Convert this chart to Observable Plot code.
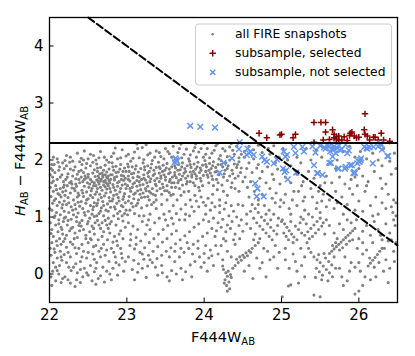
<!DOCTYPE html>
<html><head><meta charset="utf-8">
<script src="https://cdn.jsdelivr.net/npm/d3@7"></script>
<script src="https://cdn.jsdelivr.net/npm/@observablehq/plot@0.6"></script>
<style>body{margin:0;background:#fff}#c{position:relative;width:415px;height:356px}</style>
</head><body><div id="c"></div>
<script>
const xTicks = [22,23,24,25,26];
const yTicks = [0,1,2,3,4];
const xDomain = [22,26.5];
const yDomain = [-0.5,4.5];
const colorCut = [2.3];
const diagLine = [[22.5,4.5],[26.5,0.5]];

const selected = [[24.71,2.47],[24.81,2.39],[24.98,2.44],[25.0,2.45],[25.15,2.39],[25.18,2.45],[25.42,2.66],[25.51,2.66],[25.57,2.66],[26.08,2.81],[25.57,2.49],[25.66,2.53],[25.68,2.45],[25.71,2.41],[25.71,2.37],[25.81,2.41],[25.89,2.47],[25.91,2.49],[25.94,2.42],[25.97,2.39],[26.07,2.53],[26.08,2.45],[26.11,2.42],[26.19,2.4],[26.21,2.4],[26.29,2.47],[26.32,2.35],[26.4,2.33],[25.42,2.31],[25.54,2.35],[25.62,2.36],[25.74,2.34],[25.78,2.35],[25.85,2.34],[26.0,2.4],[26.14,2.35],[26.25,2.35],[25.68,2.39],[25.74,2.42],[25.88,2.43]];

const notSelected = [[23.82,2.6],[23.95,2.58],[24.14,2.57],[23.63,2.03],[23.65,1.98],[23.62,1.96],[23.64,2.0],[24.2,1.78],[24.25,1.95],[24.36,2.03],[24.45,2.19],[24.46,2.31],[24.56,2.2],[24.58,2.12],[24.6,2.15],[24.64,2.09],[24.55,2.09],[24.66,1.59],[24.69,1.5],[24.68,1.36],[24.77,1.36],[24.75,2.06],[24.78,2.0],[24.81,1.97],[24.9,1.94],[24.94,2.01],[25.03,2.15],[25.05,2.06],[25.07,2.09],[25.02,1.85],[25.04,1.79],[25.08,1.66],[25.16,2.23],[25.18,2.12],[25.19,1.78],[25.27,2.23],[25.29,2.15],[25.42,1.91],[25.44,2.13],[25.46,1.77],[25.53,1.74],[25.5,2.25],[25.55,2.22],[25.57,2.2],[25.61,2.23],[25.63,2.15],[25.68,2.19],[25.7,2.12],[25.66,2.06],[25.62,1.95],[25.74,2.25],[25.78,2.19],[25.83,2.27],[25.74,1.85],[25.85,2.12],[25.87,2.17],[25.83,1.88],[25.89,1.91],[25.94,1.79],[25.95,1.77],[25.98,1.94],[26.02,2.0],[26.0,1.97],[26.07,2.23],[26.11,2.2],[26.18,1.94],[26.19,2.23],[26.28,2.29],[26.3,2.18],[26.38,2.07],[25.4,2.24],[25.6,2.26],[25.65,2.28],[25.72,2.21],[25.76,2.17],[25.68,2.24],[25.06,1.82],[25.47,1.77],[25.64,1.95],[25.73,1.85],[25.82,1.85],[25.91,1.91],[25.93,1.77],[26.01,1.97],[26.03,2.03],[26.1,2.21],[26.14,2.22],[26.37,2.07],[26.25,2.24],[26.29,2.26]];

const snapshots = [
[22.03,1.92],[22.1,2.02],[22.17,1.95],[22.22,2.08],[22.3,1.98],[22.36,2.12],[22.41,2.03],[22.48,1.94],[22.53,2.1],[22.6,2.0],[22.66,2.15],[22.71,2.05],[22.77,1.96],[22.83,2.12],[22.88,2.02],[22.94,2.18],[22.99,2.07],[23.05,1.98],[23.1,2.14],[23.16,2.04],[23.2,2.22],[23.27,2.09],[23.33,1.99],[23.38,2.16],[23.44,2.06],[23.5,2.2],[23.55,2.11],[23.6,2.24],[23.66,2.13],[23.71,2.04],[23.77,2.19],[23.82,2.09],[23.88,2.22],[23.93,2.14],[23.99,2.05],[24.04,2.2],[24.1,2.12],[24.15,2.25],[24.21,2.08],[24.27,2.16],[24.33,2.23],[24.39,2.1],[24.45,2.04],[24.52,2.15],[24.58,2.24],[24.64,2.18],[24.7,2.26],[24.75,2.13],[24.83,2.2],[24.9,2.25],[22.13,1.88],[22.45,2.16],[22.85,2.21],[23.25,2.27],[23.7,2.28],[24.0,2.29],[24.35,2.29],[23.13,2.28],[23.89,2.28],[24.17,2.28],
[22.02,1.85],[22.07,1.78],[22.12,1.82],[22.16,1.74],[22.04,1.7],[22.1,1.66],[22.18,1.62],[22.03,1.6],[22.08,1.55],[22.14,1.5],[22.19,1.56],[22.05,1.45],[22.11,1.41],[22.17,1.44],[22.02,1.36],[22.08,1.32],[22.15,1.35],[22.19,1.28],[22.04,1.24],[22.1,1.2],[22.16,1.16],[22.03,1.12],[22.09,1.08],[22.14,1.04],[22.19,1.1],[22.06,0.99],[22.12,0.95],[22.18,0.92],[22.01,0.9],[22.08,0.86],[22.15,0.82],[22.03,0.78],[22.11,0.74],[22.17,0.7],[22.05,0.66],[22.13,0.62],[22.19,0.98],[22.06,1.92],[22.14,1.7],[22.01,1.52],[22.13,1.26],
[22.22,1.9],[22.27,1.84],[22.33,1.88],[22.38,1.8],[22.24,1.76],[22.3,1.72],[22.36,1.75],[22.21,1.66],[22.28,1.62],[22.34,1.67],[22.39,1.6],[22.23,1.55],[22.29,1.51],[22.35,1.54],[22.21,1.46],[22.27,1.42],[22.33,1.46],[22.38,1.38],[22.24,1.34],[22.31,1.3],[22.37,1.26],[22.22,1.22],[22.28,1.18],[22.34,1.14],[22.39,1.19],[22.25,1.08],[22.31,1.04],[22.37,1.07],[22.21,1.0],[22.28,0.96],[22.35,0.92],[22.23,0.86],[22.3,0.82],[22.38,0.85],[22.26,0.76],[22.33,0.72],[22.22,0.68],[22.36,0.64],[22.29,1.58],[22.36,1.35],
[22.42,1.92],[22.47,1.86],[22.53,1.9],[22.58,1.83],[22.44,1.78],[22.5,1.75],[22.56,1.77],[22.41,1.7],[22.47,1.68],[22.53,1.66],[22.59,1.71],[22.43,1.62],[22.49,1.6],[22.55,1.62],[22.45,1.54],[22.51,1.52],[22.57,1.55],[22.42,1.47],[22.48,1.44],[22.54,1.46],[22.59,1.4],[22.44,1.36],[22.5,1.32],[22.56,1.34],[22.41,1.27],[22.47,1.24],[22.53,1.2],[22.58,1.25],[22.43,1.15],[22.5,1.1],[22.56,1.13],[22.46,1.03],[22.52,0.98],[22.58,1.01],[22.42,0.94],[22.49,0.88],[22.55,0.84],[22.44,0.78],[22.52,0.74],[22.58,0.7],[22.46,1.72],[22.52,1.58],
[22.61,1.93],[22.66,1.87],[22.72,1.91],[22.77,1.84],[22.62,1.8],[22.68,1.77],[22.74,1.79],[22.79,1.74],[22.63,1.72],[22.69,1.7],[22.75,1.68],[22.61,1.65],[22.66,1.63],[22.72,1.64],[22.78,1.6],[22.64,1.58],[22.7,1.56],[22.76,1.55],[22.62,1.5],[22.68,1.47],[22.74,1.49],[22.79,1.44],[22.65,1.4],[22.71,1.37],[22.77,1.34],[22.63,1.3],[22.69,1.27],[22.75,1.23],[22.61,1.2],[22.67,1.16],[22.73,1.12],[22.79,1.17],[22.64,1.06],[22.7,1.02],[22.76,0.98],[22.62,0.94],[22.68,0.9],[22.74,0.86],[22.66,0.8],[22.72,1.74],[22.67,1.66],[22.73,1.6],
[22.81,1.95],[22.86,1.89],[22.92,1.92],[22.97,1.86],[22.83,1.82],[22.89,1.79],[22.95,1.8],[22.81,1.74],[22.87,1.71],[22.93,1.73],[22.98,1.68],[22.84,1.65],[22.9,1.62],[22.96,1.64],[22.82,1.57],[22.88,1.54],[22.94,1.56],[22.99,1.5],[22.85,1.47],[22.91,1.44],[22.97,1.41],[22.83,1.38],[22.89,1.34],[22.95,1.31],[22.81,1.28],[22.87,1.24],[22.93,1.2],[22.98,1.25],[22.85,1.14],[22.91,1.1],[22.97,1.06],[22.83,1.02],[22.89,0.97],[22.95,0.93],[22.86,0.86],
[23.01,1.93],[23.07,1.88],[23.12,1.9],[23.18,1.85],[23.03,1.8],[23.09,1.77],[23.15,1.79],[23.02,1.72],[23.08,1.69],[23.14,1.71],[23.19,1.66],[23.04,1.63],[23.1,1.6],[23.16,1.62],[23.01,1.55],[23.07,1.52],[23.13,1.54],[23.18,1.48],[23.05,1.45],[23.11,1.42],[23.17,1.4],[23.03,1.36],[23.09,1.32],[23.15,1.3],[23.06,1.24],[23.12,1.2],[23.19,1.16],[23.04,1.12],[23.1,1.06],[23.16,1.02],
[23.21,1.95],[23.27,1.9],[23.32,1.93],[23.38,1.87],[23.23,1.83],[23.29,1.8],[23.35,1.82],[23.22,1.74],[23.28,1.71],[23.34,1.73],[23.39,1.68],[23.24,1.65],[23.3,1.62],[23.36,1.64],[23.21,1.57],[23.27,1.54],[23.33,1.5],[23.38,1.55],[23.25,1.46],[23.31,1.42],[23.37,1.38],[23.23,1.35],[23.29,1.3],[23.35,1.26],
[23.41,1.96],[23.47,1.91],[23.52,1.94],[23.58,1.88],[23.43,1.85],[23.49,1.82],[23.55,1.84],[23.42,1.77],[23.48,1.74],[23.54,1.76],[23.59,1.7],[23.44,1.68],[23.5,1.65],[23.56,1.66],[23.46,1.58],[23.52,1.55],[23.58,1.6],[23.43,1.5],[23.49,1.46],[23.55,1.43],
[23.61,1.97],[23.67,1.92],[23.72,1.95],[23.78,1.9],[23.63,1.86],[23.69,1.83],[23.75,1.85],[23.62,1.78],[23.68,1.75],[23.74,1.77],[23.79,1.72],[23.64,1.69],[23.7,1.66],[23.76,1.68],[23.66,1.6],[23.72,1.56],[23.78,1.62],[23.63,1.52],
[23.81,1.98],[23.87,1.93],[23.92,1.96],[23.98,1.91],[23.83,1.87],[23.89,1.84],[23.95,1.86],[23.82,1.79],[23.88,1.76],[23.94,1.78],[23.99,1.73],[23.84,1.7],[23.9,1.67],[23.96,1.63],[23.86,1.6],
[24.01,1.99],[24.07,1.94],[24.12,1.97],[24.18,1.92],[24.03,1.88],[24.09,1.85],[24.15,1.87],[24.02,1.8],[24.08,1.77],[24.14,1.79],[24.19,1.74],[24.05,1.7],[24.11,1.66],
[24.22,1.99],[24.28,1.95],[24.33,2.0],[24.39,1.93],[24.45,1.97],[24.24,1.88],[24.3,1.85],[24.36,1.82],[24.42,1.87],[24.26,1.76],[24.33,1.72],[24.4,1.68],[24.47,1.78],
[22.01,1.74],[22.05,1.63],[22.09,1.48],[22.13,1.39],[22.17,1.22],[22.0,1.15],[22.07,1.02],[22.12,0.88],[22.16,0.78],[22.02,0.71],[22.09,0.58],[22.15,0.52],[22.2,0.62],[22.06,1.29],[22.18,1.52],[22.04,1.82],[22.11,1.96],[22.19,1.85],[22.23,1.7],[22.26,1.6],[22.32,1.5],[22.37,1.42],[22.25,1.25],[22.3,1.12],[22.35,1.0],[22.39,0.9],[22.24,0.94],[22.28,0.8],[22.32,0.62],[22.27,0.56],[22.39,0.76],[22.33,1.22],[22.2,1.38],[22.26,1.96],[22.31,1.82],[22.38,1.66],[22.34,1.58],
[22.41,1.82],[22.45,1.66],[22.5,1.7],[22.55,1.5],[22.58,1.6],[22.43,1.42],[22.48,1.3],[22.53,1.38],[22.57,1.18],[22.45,1.08],[22.5,0.92],[22.55,1.05],[22.59,0.9],[22.41,0.84],[22.47,0.68],[22.53,0.62],[22.57,0.8],[22.44,2.0],[22.56,1.96],[22.62,1.86],[22.65,1.76],[22.7,1.82],[22.76,1.72],[22.79,1.66],[22.64,1.68],[22.7,1.62],[22.75,1.58],[22.6,1.55],[22.66,1.52],[22.72,1.53],[22.78,1.5],[22.61,1.44],[22.67,1.34],[22.73,1.42],[22.78,1.28],[22.62,1.24],[22.7,1.2],[22.76,1.1],[22.66,1.1],[22.61,1.02],[22.72,0.94],[22.78,0.88],[22.64,0.86],[22.7,0.74],[22.76,0.8],[22.8,0.92],[22.68,0.66],[22.74,1.7],[22.69,1.73],[22.77,1.64],[22.63,1.62],
[22.82,1.88],[22.86,1.78],[22.91,1.84],[22.96,1.72],[22.99,1.8],[22.84,1.69],[22.88,1.6],[22.93,1.66],[22.98,1.58],[22.83,1.52],[22.87,1.4],[22.92,1.5],[22.96,1.36],[22.82,1.32],[22.9,1.28],[22.95,1.18],[22.84,1.18],[22.88,1.06],[22.94,1.02],[22.99,1.12],[23.02,1.88],[23.06,1.76],[23.11,1.84],[23.16,1.7],[23.02,1.66],[23.08,1.58],[23.13,1.64],[23.17,1.56],[23.04,1.5],[23.09,1.4],[23.14,1.46],[23.19,1.34],[23.02,1.28],[23.08,1.18],[23.14,1.24],[23.01,1.04],[23.23,1.88],[23.27,1.77],[23.31,1.86],[23.36,1.76],[23.22,1.68],[23.26,1.6],[23.31,1.67],[23.37,1.58],[23.24,1.5],[23.29,1.45],[23.34,1.4],[23.39,1.46],[23.21,1.42],[23.27,1.36],[23.32,1.22],[23.38,1.3],[23.26,1.2],
[23.42,1.88],[23.46,1.8],[23.51,1.86],[23.56,1.78],[23.44,1.72],[23.5,1.7],[23.55,1.62],[23.58,1.52],[23.42,1.62],[23.47,1.52],[23.52,1.46],[23.57,1.38],[23.45,1.4],[23.62,1.9],[23.66,1.82],[23.71,1.88],[23.76,1.8],[23.62,1.73],[23.67,1.64],[23.72,1.72],[23.77,1.58],[23.61,1.6],[23.68,1.5],[23.74,1.44],[23.82,1.92],[23.86,1.8],[23.91,1.88],[23.96,1.82],[23.84,1.74],[23.9,1.72],[23.95,1.68],[23.82,1.62],[23.88,1.55],[23.93,1.52],[24.02,1.92],[24.06,1.82],[24.11,1.9],[24.16,1.8],[24.04,1.74],[24.1,1.72],[24.16,1.66],[24.06,1.6],[24.12,1.55],[24.18,1.6],[24.22,1.92],[24.27,1.82],[24.31,1.9],[24.37,1.76],[24.43,1.92],[24.25,1.7],[24.3,1.64],[24.36,1.6],[24.44,1.72],[24.48,1.86],[24.23,1.56],[24.4,1.5],[24.5,1.62],
[22.05,2.05],[22.2,1.99],[22.27,2.05],[22.39,1.97],[22.5,2.02],[22.57,2.08],[22.64,2.04],[22.74,2.0],[22.8,2.06],[22.92,2.04],[23.02,2.1],[23.08,2.03],[23.14,2.2],[23.22,2.01],[23.3,2.12],[23.36,2.05],[23.42,2.13],[23.48,2.02],[23.53,2.15],[23.58,2.05],[23.68,2.2],[23.74,2.1],[23.8,2.02],[23.86,2.16],[23.9,2.05],[23.96,2.2],[24.02,2.1],[24.07,2.04],[24.13,2.17],[24.19,2.02],[24.24,2.2],[24.3,2.06],[24.37,2.17],[24.42,2.24],[24.48,2.1],
[22.03,0.55],[22.1,0.5],[22.18,0.57],[22.06,0.44],[22.14,0.4],[22.22,0.47],[22.3,0.52],[22.38,0.45],[22.02,0.33],[22.1,0.28],[22.19,0.34],[22.27,0.3],[22.35,0.36],[22.44,0.4],[22.5,0.55],[22.57,0.48],[22.63,0.6],[22.7,0.52],[22.05,0.2],[22.13,0.15],[22.22,0.2],[22.31,0.12],[22.4,0.22],[22.48,0.28],[22.56,0.35],[22.64,0.4],[22.72,0.33],[22.8,0.45],[22.88,0.5],[22.95,0.62],[22.04,0.05],[22.12,0.0],[22.2,-0.05],[22.28,0.06],[22.36,0.02],[22.45,0.1],[22.53,0.15],[22.61,0.2],[22.69,0.12],[22.77,0.22],[22.85,0.3],[22.93,0.36],[22.08,-0.12],[22.17,-0.08],[22.27,-0.16],[22.35,-0.1],[22.43,-0.05],[22.5,-0.02],[22.58,0.04],[22.66,-0.03],[22.74,0.05],[22.82,0.1],[22.9,0.16],[22.98,0.22],[22.55,-0.12],[22.63,-0.08],[22.71,-0.14],[22.03,-0.2],[22.33,-0.22],[22.88,-0.02],[22.96,0.05],[22.78,0.72],[22.84,0.66],[22.92,0.76],[22.98,0.82],[22.87,0.58],
[22.01,0.45],[22.07,0.38],[22.15,0.3],[22.24,0.38],[22.33,0.46],[22.42,0.52],[22.47,0.62],[22.54,0.6],[22.6,0.5],[22.67,0.45],[22.75,0.6],[22.82,0.56],[22.9,0.7],[22.08,0.12],[22.16,0.24],[22.25,0.12],[22.34,0.18],[22.42,0.3],[22.5,0.38],[22.58,0.26],[22.66,0.3],[22.74,0.42],[22.83,0.38],[22.92,0.45],[22.02,-0.05],[22.1,0.06],[22.24,-0.1],[22.4,0.08],[22.48,0.02],[22.6,0.1],[22.78,0.0],[22.86,0.2],[22.94,0.28],[22.15,-0.15],[22.4,-0.15],[22.6,-0.18],[22.8,-0.1],
[23.02,0.9],[23.08,0.84],[23.14,0.78],[23.2,0.92],[23.26,0.86],[23.05,0.7],[23.12,0.64],[23.18,0.58],[23.24,0.7],[23.3,0.78],[23.36,0.9],[23.42,0.98],[23.48,1.05],[23.04,0.5],[23.1,0.44],[23.17,0.38],[23.23,0.46],[23.29,0.55],[23.35,0.62],[23.41,0.7],[23.47,0.78],[23.53,0.85],[23.02,0.3],[23.09,0.24],[23.15,0.18],[23.22,0.26],[23.28,0.33],[23.34,0.4],[23.4,0.48],[23.46,0.56],[23.52,0.62],[23.58,0.7],[23.64,0.76],[23.07,0.08],[23.14,0.03],[23.2,0.1],[23.27,0.14],[23.33,0.2],[23.39,0.27],[23.45,0.33],[23.51,0.4],[23.57,0.46],[23.63,0.53],[23.69,0.6],[23.75,0.67],[23.81,0.74],[23.87,0.82],[23.93,0.88],[23.99,0.95],[23.4,-0.02],[23.46,0.02],[23.52,-0.05],[23.58,0.06],[23.64,0.0],[23.7,0.1],[23.76,0.04],[23.82,0.16],[23.88,0.22],[23.94,0.3],[24.0,0.36],[23.62,0.22],[23.68,0.3],[23.74,0.38],[23.8,0.45],[23.86,0.52],[23.92,0.58],[23.98,0.66],[23.1,-0.1],[23.25,-0.06],[23.55,-0.12],[23.72,-0.1],[23.84,-0.05],
[23.55,1.1],[23.6,1.2],[23.65,1.3],[23.7,1.38],[23.58,0.98],[23.64,1.06],[23.7,1.14],[23.76,1.22],[23.82,1.3],[23.88,1.38],[23.94,1.46],[23.75,0.95],[23.81,1.02],[23.87,1.1],[23.93,1.18],[23.99,1.26],[24.05,1.33],[24.11,1.4],[24.17,1.48],[24.02,1.05],[24.08,1.12],[24.14,1.18],[24.2,1.08],[24.26,1.14],[24.32,1.02],[24.06,0.92],[24.12,0.98],[24.18,0.9],[24.24,0.96],[24.3,0.86],[24.36,0.92],[24.1,0.8],[24.16,0.76],[24.22,0.82],[24.28,0.74],[24.34,0.8],[24.4,0.7],[24.04,0.72],[24.14,0.66],[24.25,0.62],[24.38,1.1],[24.44,1.22],[24.48,0.95],[24.2,1.3],[24.3,1.38],[24.45,1.45],[24.02,0.5],[24.08,0.42],[24.15,0.5],[23.98,1.55],
[24.25,0.08],[24.28,0.02],[24.3,-0.04],[24.27,-0.1],[24.32,-0.14],[24.29,-0.2],[24.33,-0.26],[24.35,-0.06],[24.31,0.05],[24.26,-0.16],[24.34,-0.01],[24.3,-0.3],[24.37,0.1],[24.24,0.14],[24.4,0.15],
[24.42,0.26],[24.46,0.3],[24.5,0.33],[24.54,0.37],[24.58,0.41],[24.62,0.45],[24.66,0.5],[24.48,0.24],[24.52,0.29],[24.56,0.32],[24.6,0.38],[24.44,0.2],[24.7,0.55],[24.64,0.6],
[24.52,2.05],[24.58,1.95],[24.64,2.02],[24.7,1.92],[24.55,1.85],[24.62,1.78],[24.68,1.86],[24.75,1.8],[24.82,1.88],[24.88,1.75],[24.95,1.84],[24.53,1.7],[24.6,1.62],[24.72,1.68],[24.8,1.6],[24.9,1.66],[24.98,1.58],[24.56,1.52],[24.65,1.45],[24.75,1.4],[24.85,1.5],[24.93,1.42],[24.58,1.35],[24.7,1.3],[24.88,1.33],[24.97,2.05],[24.85,2.1],[24.92,1.95],
[24.62,1.22],[24.66,1.15],[24.7,1.08],[24.74,1.0],[24.78,0.94],[24.82,0.88],[24.86,0.82],[24.9,0.76],[24.94,0.7],[24.64,0.98],[24.68,0.9],[24.72,0.84],[24.76,0.78],[24.8,0.72],[24.84,0.66],[24.88,0.6],[24.78,1.2],[24.84,1.12],[24.9,1.05],[24.96,0.98],[25.0,0.92],[24.92,1.25],[24.98,1.18],[24.66,0.7],[24.72,0.62],[24.6,0.8],
[25.01,0.95],[25.04,0.88],[25.07,0.82],[25.1,0.76],[25.13,0.7],[25.16,0.65],[25.03,0.72],[25.06,0.66],[25.09,0.6],[25.12,0.92],[25.18,0.84],[25.22,0.78],[25.26,0.72],[25.3,0.68],[25.34,0.74],[25.38,0.8],[25.42,0.86],[25.46,0.92],[25.5,0.98],[25.54,0.9],[25.24,0.9],[25.28,0.96],[25.32,0.88],[25.36,0.62],[25.4,0.66],[25.44,0.72],[25.48,0.78],[25.52,0.84],[25.56,0.7],[25.2,0.6],[25.15,0.55],[25.25,1.0],[25.58,0.95],
[25.02,2.2],[25.08,2.0],[25.12,1.9],[25.2,2.05],[25.25,1.95],[25.32,2.2],[25.38,2.0],[25.45,2.18],[25.52,2.05],[25.6,1.92],[25.66,2.22],[25.72,2.0],[25.8,2.15],[25.88,2.24],[25.95,2.05],[26.02,2.15],[26.1,2.02],[26.18,2.12],[26.25,2.0],[26.32,2.2],[26.4,1.98],[26.46,2.12],[25.05,1.7],[25.12,1.6],[25.2,1.75],[25.28,1.62],[25.35,1.8],[25.42,1.68],[25.5,1.55],[25.58,1.72],[25.65,1.6],[25.75,1.7],[25.82,1.58],[25.9,1.66],[25.98,1.55],[26.05,1.72],[26.12,1.62],[26.2,1.8],[26.28,1.68],[26.35,1.58],[26.42,1.75],[26.48,1.85],[25.05,1.4],[25.14,1.3],[25.22,1.45],[25.3,1.35],[25.38,1.5],[25.46,1.25],[25.54,1.4],[25.62,1.3],[25.7,1.45],[25.78,1.35],[25.85,1.22],[25.92,1.4],[26.0,1.28],[26.08,1.45],[26.15,1.2],[26.22,1.35],[26.3,1.25],[26.38,1.4],[26.45,1.3],[25.1,1.15],[25.3,1.12],[25.5,1.08],[25.68,1.15],[25.8,1.05],[26.05,1.1],[26.25,1.05],[26.42,1.18],
[25.62,0.36],[25.65,0.4],[25.68,0.44],[25.71,0.48],[25.74,0.52],[25.77,0.56],[25.8,0.6],[25.83,0.64],[25.86,0.68],[25.89,0.72],[25.92,0.76],[25.95,0.8],[25.66,0.5],[25.7,0.55],[25.75,0.42],[25.79,0.46],[25.84,0.52],[25.88,0.58],[25.72,0.62],[25.9,0.9],[25.97,0.95],[26.0,0.62],[26.05,0.75],[26.1,0.85],[26.15,0.68],[26.2,0.92],[26.25,0.78],[26.3,0.6],[26.35,0.88],[26.4,0.72],[26.45,0.95],[26.48,1.02],[26.44,1.08],[26.47,0.85],
[25.42,0.3],[25.46,0.25],[25.5,0.2],[25.54,0.14],[25.58,0.08],[25.62,0.02],[25.45,0.1],[25.49,0.04],[25.53,-0.02],[25.57,0.28],[25.61,0.22],[25.65,0.16],[25.48,0.34],[25.55,0.36],[25.66,-0.05],[25.44,-0.06],[25.52,-0.1],[25.6,-0.12],[25.68,0.3],[25.7,0.1],
[26.12,0.14],[26.15,0.19],[26.18,0.24],[26.21,0.29],[26.24,0.34],[26.27,0.4],[26.14,0.28],[26.2,0.12],[26.26,0.2],[26.3,0.45],[26.05,0.35],[26.02,0.05],[26.08,-0.05],[26.35,0.25],[26.4,0.1],[26.45,0.4],[26.48,0.55],[26.38,0.58],[26.0,0.2],
[25.01,-0.4],[25.09,-0.21],[25.12,-0.19],[25.22,-0.16],[25.42,-0.37],[25.5,-0.4],[25.95,-0.35],[26.0,-0.3],[25.8,-0.2],[25.85,-0.12],[26.05,-0.2],[25.3,-0.05],[25.2,0.05],[24.8,-0.05],[24.95,0.1],[24.9,0.3],[25.05,0.25],[25.15,0.35],[25.3,0.3],[25.35,0.45],[24.75,0.2],[24.82,0.4],[25.25,0.45],
[24.0,0.2],[24.06,0.28],[24.12,0.15],[24.18,0.35],[24.24,0.25],[24.3,0.4],[24.35,0.3],[24.22,0.5],[24.28,0.58],[24.4,0.52],[24.46,0.62],[24.5,0.75],[24.55,0.88],[24.55,1.05],[24.5,1.2],
[24.52,0.05],[24.58,0.15],[24.63,-0.08],[24.68,0.28],[24.72,0.1],[24.77,0.45],[24.85,0.25],[24.92,0.5],[24.97,0.38],[24.6,1.1],[24.7,1.22],[24.8,1.05],[24.86,0.95],[24.95,0.85],[24.99,1.3],
[25.05,0.45],[25.1,0.1],[25.18,0.22],[25.26,0.15],[25.33,0.55],[25.38,0.38],[25.4,1.0],[25.45,1.15],[25.52,1.28],[25.58,1.18],[25.12,1.05],[25.2,1.2],[25.28,1.28],[25.35,1.05],[25.03,1.25],[25.16,1.45],[25.26,1.55],[25.48,1.45],[25.56,1.6],[25.4,1.35],
[25.62,0.85],[25.68,0.72],[25.75,0.88],[25.8,0.78],[25.85,0.95],[25.92,0.6],[25.98,0.45],[26.05,0.55],[26.1,0.42],[26.18,0.55],[26.28,0.68],[26.33,0.45],[26.42,0.6],[26.46,0.22],[26.32,0.05],[26.22,-0.05],[26.15,-0.1],[25.9,0.2],[25.82,0.3],[25.75,0.1],[25.88,0.05],[25.95,0.12],[25.78,-0.05],[26.38,-0.15],[26.48,1.25],[26.35,1.15],[26.18,1.02],[25.95,1.12],[25.72,1.25],[25.88,1.5],[26.1,1.55],[26.3,1.5],[25.7,1.85],[26.0,1.85],[26.3,1.9],[25.95,1.7],
[23.05,0.6],[23.12,0.52],[23.2,0.35],[23.3,0.25],[23.37,0.12],[23.45,0.15],[23.55,0.3],[23.62,0.4],[23.7,0.45],[23.78,0.55],[23.85,0.35],[23.92,0.45],[23.96,0.12],[24.04,0.05],[24.1,0.32],[23.5,0.95],[23.6,0.88],[23.68,0.95],[23.76,1.05],[23.84,1.18],[23.9,1.28],[23.96,1.35],[24.02,1.2],[24.1,1.25],[24.2,1.2],[24.28,1.25],[24.35,1.2],[24.42,1.0],[24.45,0.85],[24.38,0.6],[23.3,1.05],[23.38,1.15],[23.45,1.22],[23.52,1.3],[23.22,1.02],[23.28,0.95],[23.6,1.4],[23.8,1.45],[24.25,1.45],[24.35,1.52]
];

const plusPath = "M-3.2,0H3.2M0,-3.2V3.2";
const timesPath = "M-2.6,-2.6L2.6,2.6M-2.6,2.6L2.6,-2.6";

const chart = Plot.plot({
  width: 415, height: 356,
  marginLeft: 49, marginRight: 18, marginTop: 17, marginBottom: 54,
  x: {domain: xDomain},
  y: {domain: yDomain},
  style: {fontFamily: "DejaVu Sans", fontSize: "15px", color: "black", background: "white"},
  marks: [
    Plot.dot(snapshots, {x: d => d[0], y: d => d[1], r: 1.55, fill: "#808080", stroke: null}),
    Plot.dot(selected, {x: d => d[0], y: d => d[1], symbol: "plus", r: 2.2, stroke: "#8b0000", strokeWidth: 1.5}),
    Plot.dot(notSelected, {x: d => d[0], y: d => d[1], symbol: "times", r: 2.7, stroke: "#6495ed", strokeWidth: 1.5}),
    Plot.ruleY(colorCut, {stroke: "black", strokeWidth: 2}),
    Plot.line(diagLine, {x: d => d[0], y: d => d[1], stroke: "black", strokeWidth: 2, strokeDasharray: "7.4,3.2"}),
    Plot.frame({stroke: "black", strokeWidth: 1.3}),
    Plot.axisX(xTicks, {tickSize: 0, tickPadding: 7, label: null, fontSize: 15, tickFormat: "d"}),
    Plot.axisY(yTicks, {tickSize: 0, tickPadding: 6, label: null, fontSize: 15, tickFormat: "d"}),
    Plot.tickX(xTicks, {x: d => d, insetTop: 280.5, stroke: "black", strokeWidth: 1}),
    Plot.tickY(yTicks, {y: d => d, insetRight: 343.5, stroke: "black", strokeWidth: 1})
  ]
});
document.getElementById("c").appendChild(chart);

const svg = d3.select(chart);
const xl = svg.append("text").attr("x", 223).attr("y", 342).attr("text-anchor", "middle")
  .attr("font-size", 14.5).attr("font-family", "DejaVu Sans").attr("fill", "black");
xl.append("tspan").text("F444W");
xl.append("tspan").attr("font-size", 10).attr("dy", 3).text("AB");
const yl = svg.append("text").attr("transform", "translate(25,161) rotate(-90)").attr("text-anchor", "middle")
  .attr("font-size", 14.5).attr("font-family", "DejaVu Sans").attr("fill", "black");
yl.append("tspan").attr("font-style", "italic").text("H");
yl.append("tspan").attr("font-size", 10).attr("dy", 3).text("AB");
yl.append("tspan").attr("dy", -3).text(" \u2212 F444W");
yl.append("tspan").attr("font-size", 10).attr("dy", 3).text("AB");
const lg = svg.append("g");
lg.append("rect").attr("x", 195.5).attr("y", 24).attr("width", 196).attr("height", 61).attr("rx", 3)
  .attr("fill", "white").attr("fill-opacity", 0.8).attr("stroke", "#cccccc").attr("stroke-width", 1);
lg.append("circle").attr("cx", 212.7).attr("cy", 34.3).attr("r", 1.3).attr("fill", "#808080");
lg.append("path").attr("d", plusPath).attr("transform", "translate(212.7,53.3)").attr("stroke", "#8b0000").attr("stroke-width", 1.5).attr("fill", "none");
lg.append("path").attr("d", timesPath).attr("transform", "translate(212.7,72.3)").attr("stroke", "#6495ed").attr("stroke-width", 1.5).attr("fill", "none");
const labels = ["all FIRE snapshots", "subsample, selected", "subsample, not selected"];
labels.forEach((t, i) => {
  lg.append("text").attr("x", 235).attr("y", 38.3 + 19 * i).attr("font-size", 12.3).attr("text-anchor", "start")
    .attr("font-family", "DejaVu Sans").attr("fill", "black").text(t);
});
</script></body></html>
